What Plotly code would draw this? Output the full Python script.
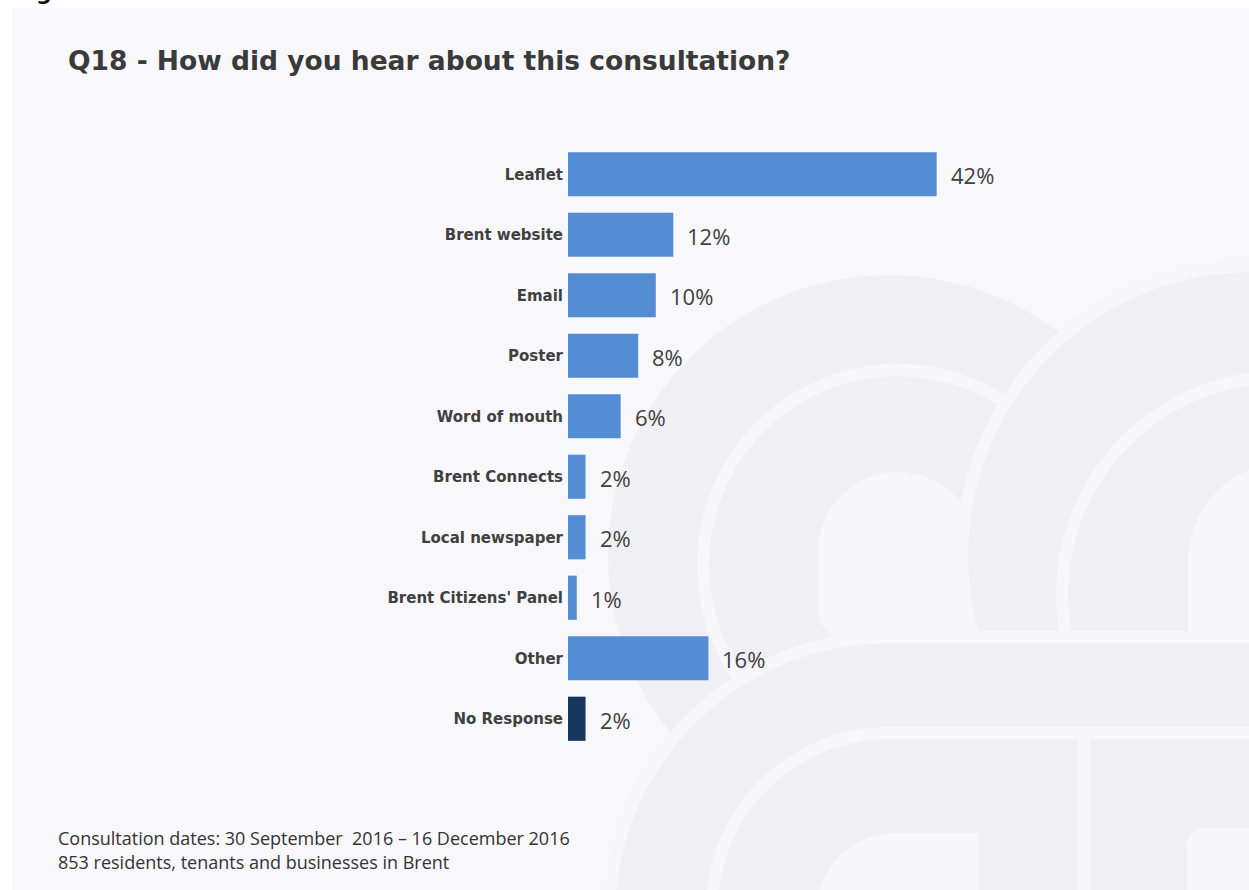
import numpy as np
import plotly.graph_objects as go

# ---- data -------------------------------------------------------------
categories = [
    "Leaflet", "Brent website", "Email", "Poster", "Word of mouth",
    "Brent Connects", "Local newspaper", "Brent Citizens' Panel",
    "Other", "No Response",
]
percent = [42, 12, 10, 8, 6, 2, 2, 1, 16, 2]
value_labels = ["42%", "12%", "10%", "8%", "6%", "2%", "2%", "1%", "16%", "2%"]

title_text = "Q18 - How did you hear about this consultation?"
footnotes = [
    "Consultation dates: 30 September  2016 \u2013 16 December 2016",
    "853 residents, tenants and businesses in Brent",
]

# ---- layout geometry --------------------------------------------------
FIG_W, FIG_H = 1249, 890
M_L, M_R, M_T, M_B = 568, 49, 144, 141
PLOT_W = FIG_W - M_L - M_R
PLOT_H = FIG_H - M_T - M_B

BLUE = "#548dd4"
NAVY = "#17375e"
CARD = "#f8f8fb"
MARK_DARK = "#f0f0f4"
MARK_LIGHT = "#f7f7fa"
TEXT = "#404040"

bar_colors = [NAVY if c == "No Response" else BLUE for c in categories]


def px(x):
    return (x - M_L) / PLOT_W


def py(y):
    return (FIG_H - M_B - y) / PLOT_H


def arc(cx, cy, r, a0, a1, n=90):
    a = np.radians(np.linspace(a0, a1, n))
    return list(zip(cx + r * np.cos(a), cy - r * np.sin(a)))


def to_path(pts, close=True):
    s = "M " + " L ".join(f"{px(x):.5f},{py(y):.5f}" for x, y in pts)
    return s + (" Z" if close else "")


def rounded_rect(x0, y0, x1, y1, rtl=0, rtr=0, rbr=0, rbl=0):
    pts = []
    pts += arc(x0 + rtl, y0 + rtl, rtl, 180, 90, 30) if rtl else [(x0, y0)]
    pts += arc(x1 - rtr, y0 + rtr, rtr, 90, 0, 30) if rtr else [(x1, y0)]
    pts += arc(x1 - rbr, y1 - rbr, rbr, 0, -90, 30) if rbr else [(x1, y1)]
    pts += arc(x0 + rbl, y1 - rbl, rbl, -90, -180, 30) if rbl else [(x0, y1)]
    return pts


def circle_shape(cx, cy, r, fill=None, line_color=None, line_w=0):
    return dict(
        type="circle", xref="paper", yref="paper", layer="below",
        x0=px(cx - r), x1=px(cx + r), y0=py(cy + r), y1=py(cy - r),
        fillcolor=fill or "rgba(0,0,0,0)",
        line=dict(color=line_color or "rgba(0,0,0,0)", width=line_w),
    )


def path_shape(pts, fill=None, line_color=None, line_w=0, close=True):
    return dict(
        type="path", xref="paper", yref="paper", layer="below",
        path=to_path(pts, close),
        fillcolor=fill or "rgba(0,0,0,0)",
        line=dict(color=line_color or "rgba(0,0,0,0)", width=line_w),
    )


shapes = []
# card background
shapes.append(dict(
    type="rect", xref="paper", yref="paper", layer="below",
    x0=px(12), x1=px(1262), y0=py(902), y1=py(8),
    fillcolor=CARD, line=dict(width=0),
))
# faint emblem watermark: upper-left arch
shapes.append(circle_shape(889, 556, 281, fill=MARK_DARK))
shapes.append(circle_shape(898, 565, 195, line_color=MARK_LIGHT, line_w=12))
shapes.append(path_shape(rounded_rect(818, 472, 978, 640, 80, 80, 0, 30), fill=MARK_LIGHT))
# upper-right arch
shapes.append(circle_shape(1252, 556, 290, fill=MARK_DARK, line_color=MARK_LIGHT, line_w=12))
shapes.append(circle_shape(1280, 595, 218, line_color=MARK_LIGHT, line_w=12))
shapes.append(path_shape(rounded_rect(1188, 462, 1300, 640, 100, 0, 0, 0), fill=MARK_LIGHT))
# lower band
lower = arc(889, 917, 280, 180, 90) + [(1275, 637), (1275, 925), (609, 925)]
shapes.append(path_shape(lower, fill=MARK_DARK, line_color=MARK_LIGHT, line_w=12))
inner = arc(889, 910, 177, 180, 90) + [(1275, 733)]
shapes.append(path_shape(inner, line_color=MARK_LIGHT, line_w=12, close=False))
shapes.append(dict(
    type="line", xref="paper", yref="paper", layer="below",
    x0=px(1084), x1=px(1084), y0=py(733), y1=py(905),
    line=dict(color=MARK_LIGHT, width=12),
))
shapes.append(path_shape(rounded_rect(816, 833, 978, 905, 80, 0, 0, 0), fill=MARK_LIGHT))
shapes.append(path_shape(rounded_rect(1187, 828, 1275, 905, 18, 0, 0, 0), fill=MARK_LIGHT))

# ---- figure -----------------------------------------------------------
fig = go.Figure(go.Bar(
    x=percent, y=categories, orientation="h",
    marker=dict(color=bar_colors, line=dict(width=0)),
    hoverinfo="skip",
))

annotations = []
for cat, val, lab in zip(categories, percent, value_labels):
    annotations.append(dict(
        x=val, y=cat, xref="x", yref="y", text=lab, showarrow=False,
        xanchor="left", yanchor="middle", xshift=12, yshift=-1,
        font=dict(family="Open Sans", size=22, color=TEXT),
    ))

for i, line in enumerate(footnotes):
    annotations.append(dict(
        x=px(56), y=py(838 + 24 * i),
        xref="paper", yref="paper", text=line, showarrow=False,
        xanchor="left", yanchor="middle",
        font=dict(family="Open Sans", size=18, color="#333333"),
    ))

# descender of a cropped heading glyph above the card
annotations.append(dict(
    x=px(44), y=py(7), xref="paper", yref="paper", text="g",
    showarrow=False, xanchor="center", yanchor="bottom",
    font=dict(family="DejaVu Sans", size=22, color="#111111", weight="bold"),
))

fig.update_layout(
    width=FIG_W, height=FIG_H,
    margin=dict(l=M_L, r=M_R, t=M_T, b=M_B, pad=0),
    paper_bgcolor="white",
    plot_bgcolor="rgba(0,0,0,0)",
    showlegend=False,
    bargap=0.27,
    title=dict(
        text=title_text,
        x=68 / FIG_W, xanchor="left", xref="container",
        y=1 - 61 / FIG_H, yanchor="middle", yref="container",
        font=dict(family="DejaVu Sans", size=26.5, color="#3a3a3a", weight="bold"),
    ),
    xaxis=dict(
        range=[0, 72], visible=False, fixedrange=True,
    ),
    yaxis=dict(
        autorange="reversed", showgrid=False, zeroline=False, showline=False,
        ticks="", ticklabelstandoff=4,
        tickfont=dict(family="DejaVu Sans", size=15, color=TEXT, weight="bold"),
        fixedrange=True,
    ),
    shapes=shapes,
    annotations=annotations,
)

fig.write_html("out.html")
